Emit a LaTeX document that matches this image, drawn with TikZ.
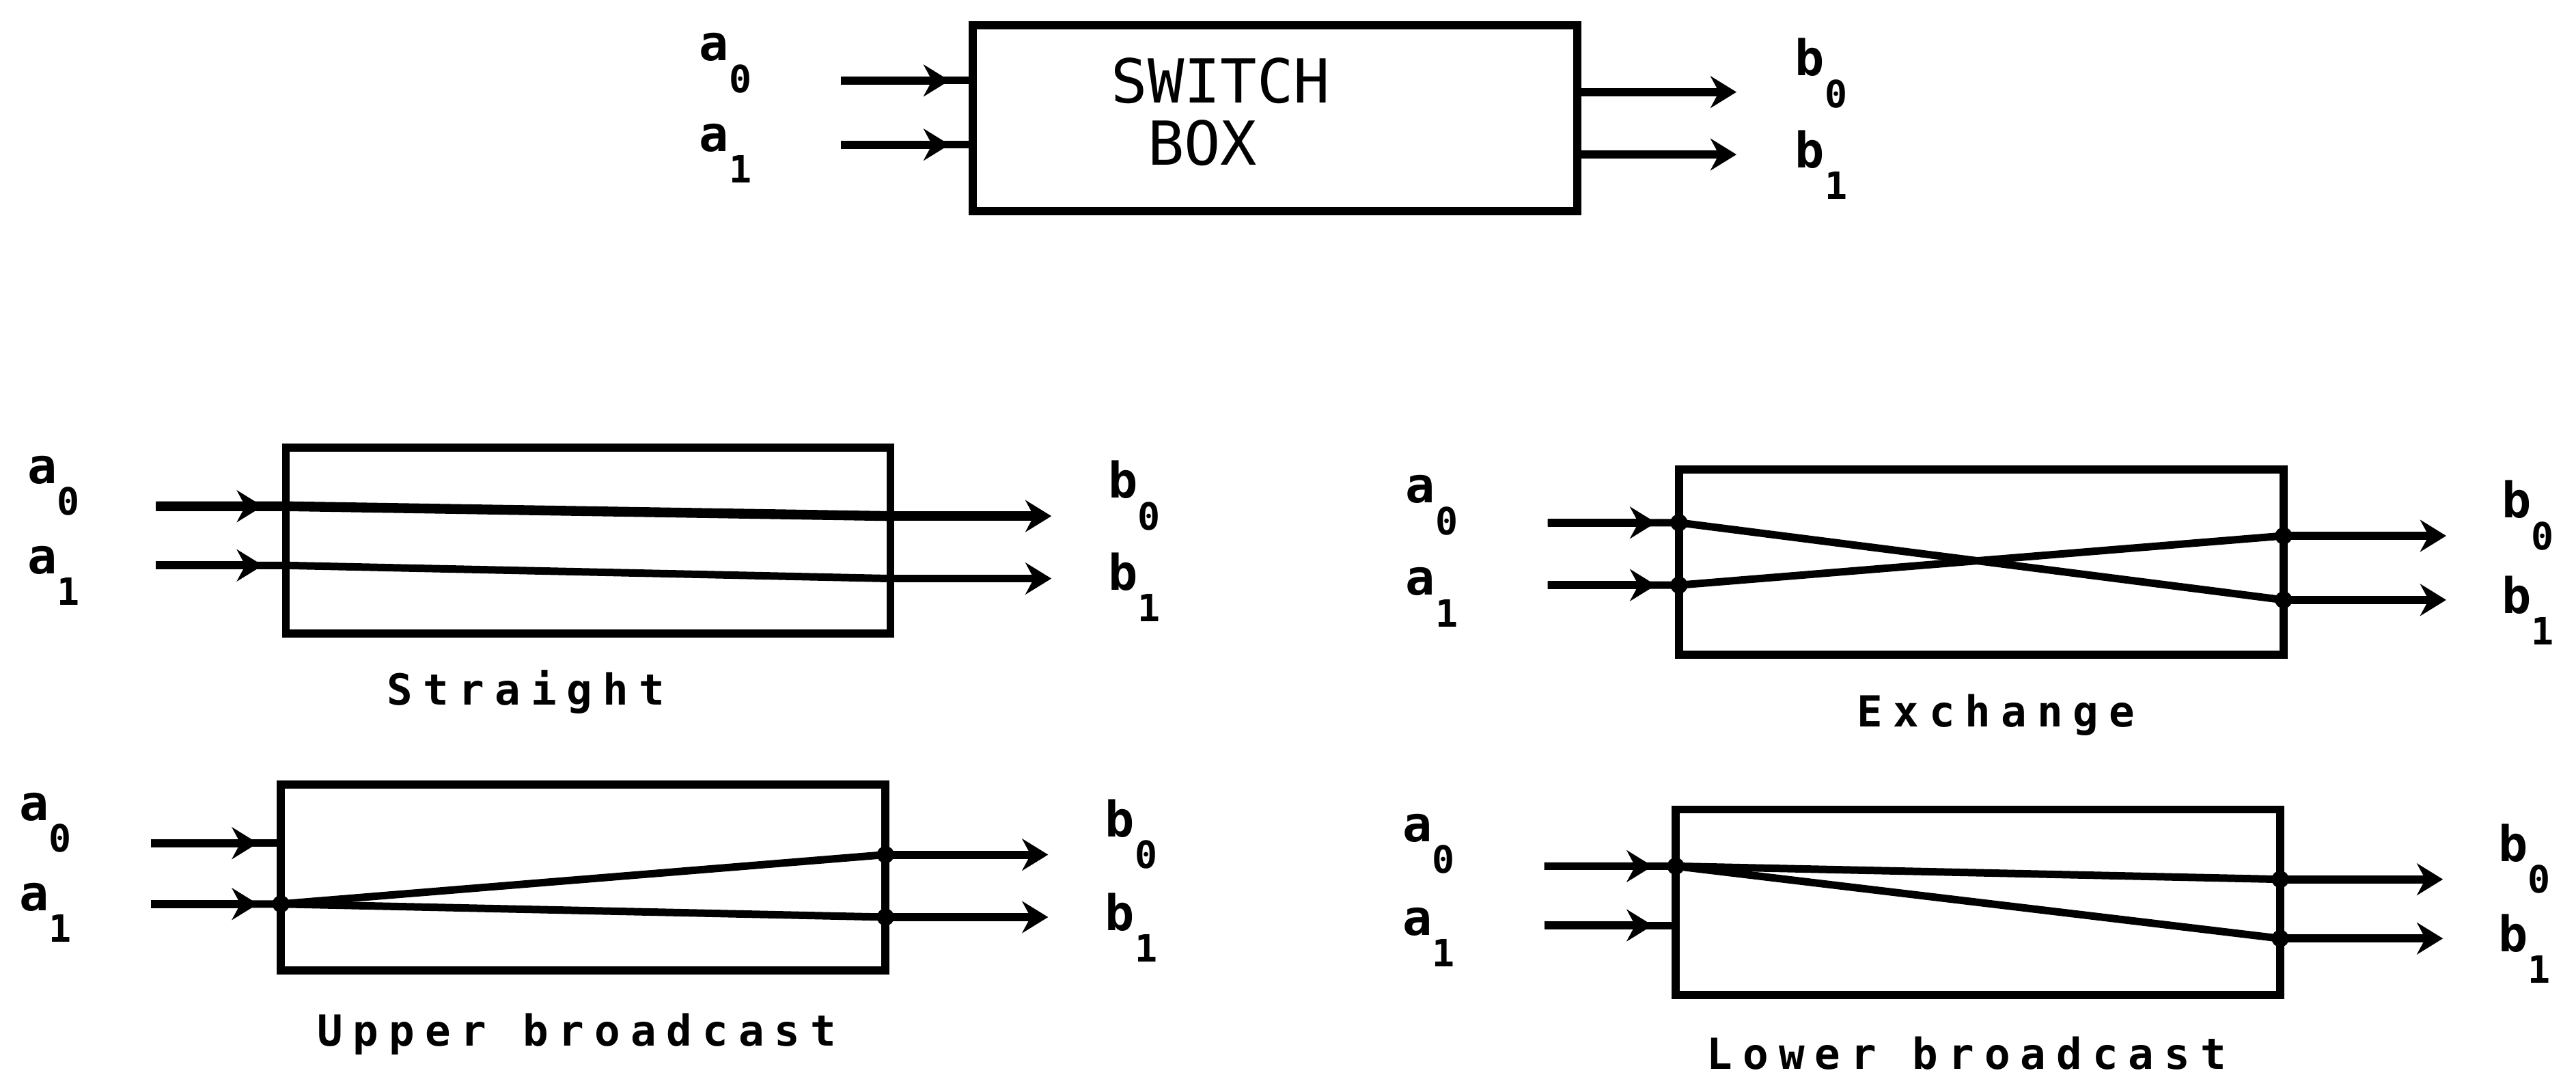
\documentclass[tikz,border=0pt]{standalone}
\usepackage{fontspec}
\usetikzlibrary{arrows.meta, calc}
\newfontfamily\pinfont{DejaVu Sans Mono}
\newfontfamily\capfont[LetterSpace=24]{DejaVu Sans Mono}
\newfontfamily\boxfont{DejaVu Sans Mono}
\newcommand{\pinlab}[2]{#1\raisebox{-5.5pt}{\fontsize{6.5}{6.5}\selectfont #2}}

\begin{document}
\begin{tikzpicture}[
    x=0.1mm, y=-0.1mm,
    swbox/.style={draw, line width=1.4pt, minimum width=36.8mm, minimum height=11.3mm,
                  inner sep=0pt},
    pin/.style={anchor=base west, inner sep=0pt,
                font=\pinfont\bfseries\fontsize{8.5}{9}\selectfont},
    modecap/.style={inner sep=0pt, font=\capfont\bfseries\fontsize{7.4}{8}\selectfont},
    arr/.style={-{Stealth[length=4.5pt, width=5.5pt]}, line width=1.4pt, shorten >=1.4mm},
    wire/.style={line width=1.3pt},
    junc/.style={circle, fill, inner sep=0pt, minimum size=3pt},
  ]
    \useasboundingbox (0,0) rectangle (1568,654);

    \node[swbox] (sw) at (776,72) {};
    \node[font=\boxfont\fontsize{10.5}{10.8}\selectfont, align=left] (swtext) at (743,68)
      {SWITCH\\\hphantom{S}BOX};
    \node[pin] (sw-a0) at (425,37) {\pinlab{a}{0}};
    \node[pin] (sw-a1) at (425,92) {\pinlab{a}{1}};
    \node[pin] (sw-b0) at (1092,46) {\pinlab{b}{0}};
    \node[pin] (sw-b1) at (1092,102) {\pinlab{b}{1}};
    \coordinate (sw-s0) at (512,49);
    \coordinate (sw-s1) at (512,88);
    \coordinate (sw-i0) at (592,49);
    \coordinate (sw-i1) at (592,88);
    \coordinate (sw-o0) at (960,56);
    \coordinate (sw-o1) at (960,94);
    \coordinate (sw-e0) at (1057,56);
    \coordinate (sw-e1) at (1057,94);
    \draw[wire] (sw-s0) -- (sw-i0);
    \draw[wire] (sw-s1) -- (sw-i1);
    \draw[arr] (sw-s0) -- (sw-i0);
    \draw[arr] (sw-s1) -- (sw-i1);
    \draw[arr, shorten >=0pt] (sw-o0) -- (sw-e0);
    \draw[arr, shorten >=0pt] (sw-o1) -- (sw-e1);

    \node[swbox] (st) at (358,329) {};
    \node[modecap] (st-cap) at (320,421) {Straight};
    \node[pin] (st-a0) at (16,294) {\pinlab{a}{0}};
    \node[pin] (st-a1) at (16,349) {\pinlab{a}{1}};
    \node[pin] (st-b0) at (674,303) {\pinlab{b}{0}};
    \node[pin] (st-b1) at (674,359) {\pinlab{b}{1}};
    \coordinate (st-s0) at (95,308);
    \coordinate (st-s1) at (95,344);
    \coordinate (st-i0) at (174,308);
    \coordinate (st-i1) at (174,344);
    \coordinate (st-o0) at (542,314);
    \coordinate (st-o1) at (542,352);
    \coordinate (st-e0) at (640,314);
    \coordinate (st-e1) at (640,352);
    \draw[wire, line width=1.7pt] (st-s0) -- (st-i0) -- (st-o0);
    \draw[wire] (st-s1) -- (st-i1) -- (st-o1);
    \draw[arr] (st-s0) -- (st-i0);
    \draw[arr] (st-s1) -- (st-i1);
    \draw[arr, shorten >=0pt, line width=1.7pt] (st-o0) -- (st-e0);
    \draw[arr, shorten >=0pt] (st-o1) -- (st-e1);

    \node[swbox] (ex) at (1206,342) {};
    \node[modecap] (ex-cap) at (1215,435) {Exchange};
    \node[pin] (ex-a0) at (855,306) {\pinlab{a}{0}};
    \node[pin] (ex-a1) at (855,362) {\pinlab{a}{1}};
    \node[pin] (ex-b0) at (1522,315) {\pinlab{b}{0}};
    \node[pin] (ex-b1) at (1522,373) {\pinlab{b}{1}};
    \coordinate (ex-s0) at (942,318);
    \coordinate (ex-s1) at (942,356);
    \coordinate (ex-i0) at (1022,318);
    \coordinate (ex-i1) at (1022,356);
    \coordinate (ex-o0) at (1390,326);
    \coordinate (ex-o1) at (1390,365);
    \coordinate (ex-e0) at (1489,326);
    \coordinate (ex-e1) at (1489,365);
    \draw[wire] (ex-s0) -- (ex-i0) -- (ex-o1);
    \draw[wire] (ex-s1) -- (ex-i1) -- (ex-o0);
    \draw[arr] (ex-s0) -- (ex-i0);
    \draw[arr] (ex-s1) -- (ex-i1);
    \draw[arr, shorten >=0pt] (ex-o0) -- (ex-e0);
    \draw[arr, shorten >=0pt] (ex-o1) -- (ex-e1);
    \node[junc] at (ex-i0) {};
    \node[junc] at (ex-i1) {};
    \node[junc] at (ex-o0) {};
    \node[junc] at (ex-o1) {};

    \node[swbox] (ub) at (355,534) {};
    \node[modecap] (ub-cap) at (351,629) {Upper broadcast};
    \node[pin] (ub-a0) at (11,499) {\pinlab{a}{0}};
    \node[pin] (ub-a1) at (11,554) {\pinlab{a}{1}};
    \node[pin] (ub-b0) at (672,509) {\pinlab{b}{0}};
    \node[pin] (ub-b1) at (672,566) {\pinlab{b}{1}};
    \coordinate (ub-s0) at (92,513);
    \coordinate (ub-s1) at (92,550);
    \coordinate (ub-i0) at (171,513);
    \coordinate (ub-i1) at (171,550);
    \coordinate (ub-o0) at (539,520);
    \coordinate (ub-o1) at (539,558);
    \coordinate (ub-e0) at (638,520);
    \coordinate (ub-e1) at (638,558);
    \draw[wire] (ub-s0) -- (ub-i0);
    \draw[wire] (ub-s1) -- (ub-i1) -- (ub-o0);
    \draw[wire] (ub-i1) -- (ub-o1);
    \draw[arr] (ub-s0) -- (ub-i0);
    \draw[arr] (ub-s1) -- (ub-i1);
    \draw[arr, shorten >=0pt] (ub-o0) -- (ub-e0);
    \draw[arr, shorten >=0pt] (ub-o1) -- (ub-e1);
    \node[junc] at (ub-i1) {};
    \node[junc] at (ub-o0) {};
    \node[junc] at (ub-o1) {};

    \node[swbox] (lb) at (1204,549) {};
    \node[modecap] (lb-cap) at (1197,641) {Lower broadcast};
    \node[pin] (lb-a0) at (853,512) {\pinlab{a}{0}};
    \node[pin] (lb-a1) at (853,569) {\pinlab{a}{1}};
    \node[pin] (lb-b0) at (1520,524) {\pinlab{b}{0}};
    \node[pin] (lb-b1) at (1520,579) {\pinlab{b}{1}};
    \coordinate (lb-s0) at (940,527);
    \coordinate (lb-s1) at (940,563);
    \coordinate (lb-i0) at (1020,527);
    \coordinate (lb-i1) at (1020,563);
    \coordinate (lb-o0) at (1388,535);
    \coordinate (lb-o1) at (1388,571);
    \coordinate (lb-e0) at (1487,535);
    \coordinate (lb-e1) at (1487,571);
    \draw[wire] (lb-s0) -- (lb-i0) -- (lb-o0);
    \draw[wire] (lb-i0) -- (lb-o1);
    \draw[wire] (lb-s1) -- (lb-i1);
    \draw[arr] (lb-s0) -- (lb-i0);
    \draw[arr] (lb-s1) -- (lb-i1);
    \draw[arr, shorten >=0pt] (lb-o0) -- (lb-e0);
    \draw[arr, shorten >=0pt] (lb-o1) -- (lb-e1);
    \node[junc] at (lb-i0) {};
    \node[junc] at (lb-o0) {};
    \node[junc] at (lb-o1) {};
\end{tikzpicture}
\end{document}
